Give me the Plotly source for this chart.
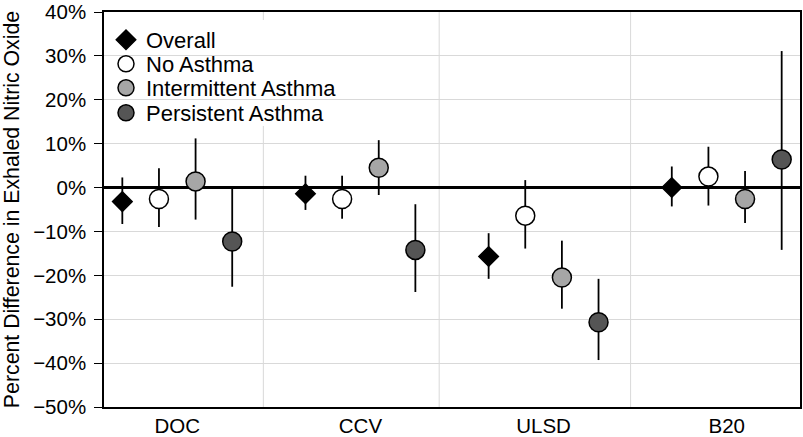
import plotly.graph_objects as go

categories = ["DOC", "CCV", "ULSD", "B20"]
series_names = ["Overall", "No Asthma", "Intermittent Asthma", "Persistent Asthma"]

overall = [-3.2, -1.4, -15.7, 0.0]
overall_hi = [2.3, 2.7, -10.4, 4.8]
overall_lo = [-8.3, -5.1, -20.8, -4.3]

no_asthma = [-2.6, -2.6, -6.4, 2.5]
no_asthma_hi = [4.4, 2.7, 1.7, 9.3]
no_asthma_lo = [-9.0, -7.1, -13.9, -4.1]

intermittent = [1.4, 4.5, -20.5, -2.6]
intermittent_hi = [11.2, 10.8, -12.1, 3.8]
intermittent_lo = [-7.3, -1.7, -27.6, -8.1]

persistent = [-12.3, -14.2, -30.7, 6.4]
persistent_hi = [0.0, -3.8, -20.8, 31.1]
persistent_lo = [-22.6, -23.8, -39.3, -14.2]

y_ticks = [40, 30, 20, 10, 0, -10, -20, -30, -40, -50]

values = [
    (overall, overall_hi, overall_lo),
    (no_asthma, no_asthma_hi, no_asthma_lo),
    (intermittent, intermittent_hi, intermittent_lo),
    (persistent, persistent_hi, persistent_lo),
]
offsets = [-0.3, -0.1, 0.1, 0.3]
symbols = ["diamond", "circle", "circle", "circle"]
fills = ["#000000", "#ffffff", "#a6a6a6", "#555555"]
sizes = [15, 19, 19, 19]
legend_ids = ["legend", "legend2", "legend3", "legend4"]

FONT = "Liberation Sans, Arial, Helvetica, sans-serif"

W, H = 803, 437
ML, MR, MT, MB = 104, 3, 12, 30
PW, PH = W - ML - MR, H - MT - MB

fig = go.Figure()
for name, (mid, hi, lo), off, sym, col, sz, lg in zip(series_names, values, offsets, symbols, fills, sizes, legend_ids):
    xs = [i + 1 + off for i in range(len(categories))]
    fig.add_trace(go.Scatter(
        x=xs, y=mid, mode="markers", name=name, legend=lg,
        marker=dict(symbol=sym, size=sz, color=col,
                    line=dict(color="#000000", width=1.5)),
        error_y=dict(type="data", symmetric=False,
                     array=[h - m for h, m in zip(hi, mid)],
                     arrayminus=[m - l for m, l in zip(mid, lo)],
                     color="#000000", thickness=1.8, width=0),
        cliponaxis=False,
    ))

# vertical separators between groups
for xv in [1.47, 2.43, 3.475]:
    fig.add_shape(type="line", xref="x", yref="paper", x0=xv, x1=xv, y0=0, y1=1,
                  line=dict(color="#d9d9d9", width=1), layer="below")

# white backdrop behind the legend (hides gridlines like the original)
fig.add_shape(type="rect", xref="paper", yref="paper",
              x0=0.002, x1=(340 - ML) / PW, y0=1 - (126 - MT) / PH, y1=1 - (20 - MT) / PH,
              fillcolor="white", line=dict(width=0), layer="between")

row_px = [40, 64, 88, 113]
legend_layouts = {}
for lg, rp in zip(legend_ids, row_px):
    legend_layouts[lg] = dict(
        x=(106 - ML) / PW, y=1 - (rp - MT) / PH, xanchor="left", yanchor="middle",
        bgcolor="rgba(0,0,0,0)", borderwidth=0,
        font=dict(size=22, family=FONT, color="#000000"),
        itemsizing="trace",
    )

fig.update_layout(
    width=W, height=H,
    margin=dict(l=ML, r=MR, t=MT, b=MB),
    paper_bgcolor="white", plot_bgcolor="white",
    font=dict(family=FONT, color="#000000"),
    showlegend=True,
    **legend_layouts,
    xaxis=dict(range=[0.6, 4.4], tickmode="array", tickvals=[1, 2, 3, 4],
               ticktext=categories, showgrid=False, zeroline=False,
               showline=True, linecolor="#000000", linewidth=1.5, mirror=True,
               ticks="", tickfont=dict(size=20.5), automargin=False),
    yaxis=dict(range=[-50, 40], tickmode="array", tickvals=y_ticks,
               ticktext=[f"{v}%" if v >= 0 else f"\u2212{abs(v)}%" for v in y_ticks],
               showgrid=True, gridcolor="#d9d9d9", gridwidth=1,
               zeroline=True, zerolinecolor="#000000", zerolinewidth=2.6,
               showline=True, linecolor="#000000", linewidth=1.5, mirror=True,
               ticks="outside", ticklen=8, tickwidth=1, tickcolor="#000000",
               tickfont=dict(size=20.5), ticklabelstandoff=4, automargin=False,
               title=dict(text="Percent Difference in Exhaled Nitric Oxide",
                          font=dict(size=21.3), standoff=9)),
)

fig.write_html("out.html", config={"displayModeBar": False},
               post_script="document.body.style.margin='0px';")
